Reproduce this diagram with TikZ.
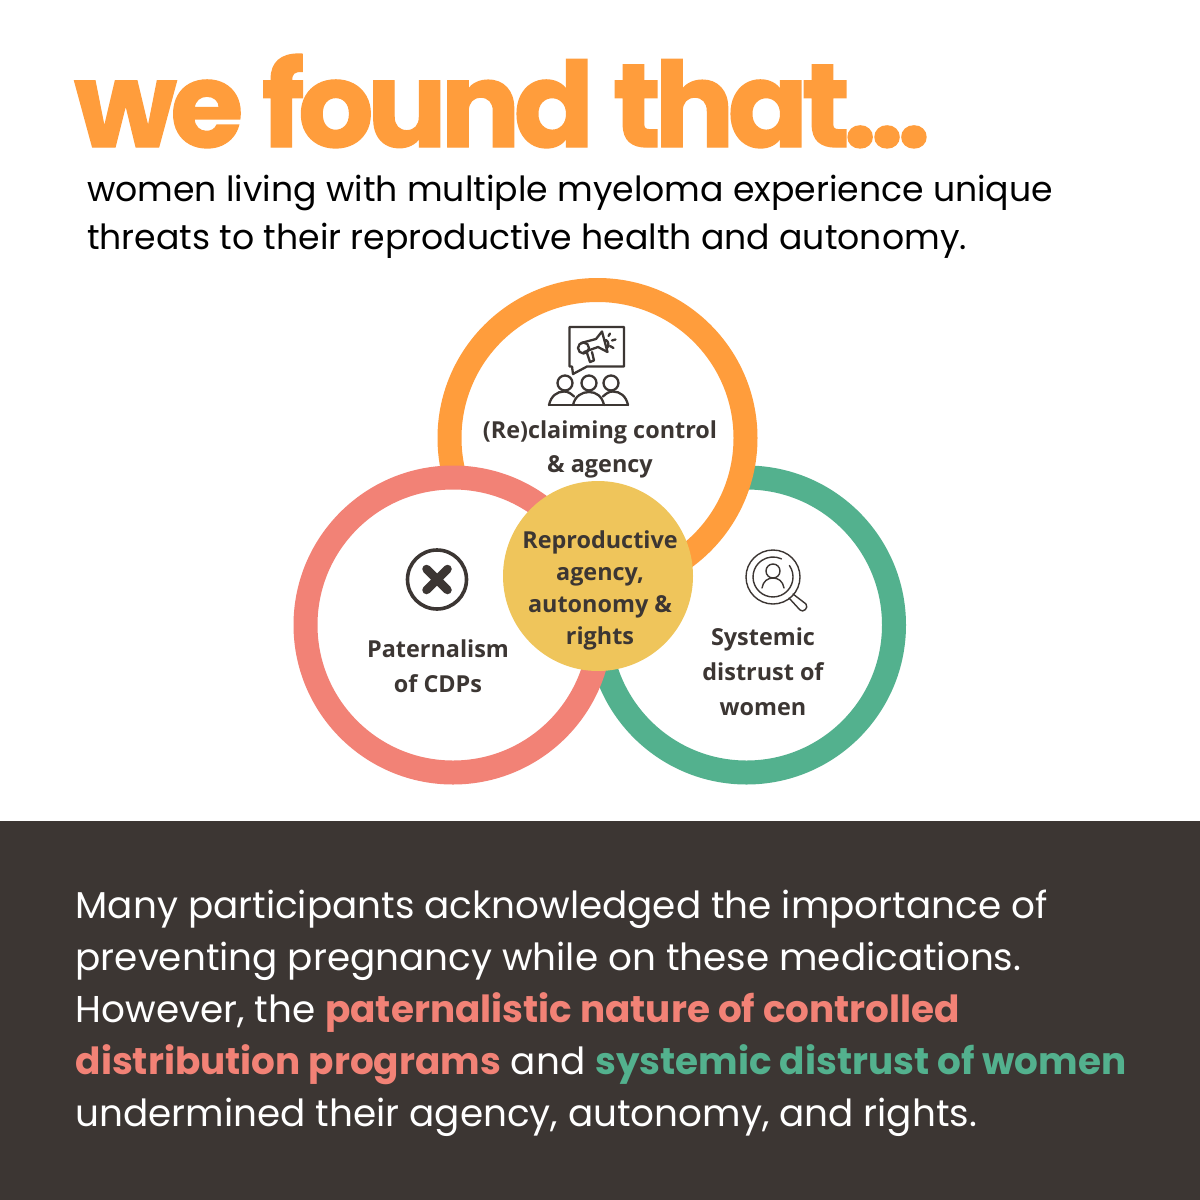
\documentclass[tikz,border=0pt]{standalone}
\usepackage{fontspec}
\setmainfont{Poppins}
\newfontfamily\titlefont[LetterSpace=-5.5,FakeBold=1.2]{Poppins Bold}
\newfontfamily\labelfont{Open Sans}
\definecolor{dark}{HTML}{3C3633}
\definecolor{orng}{HTML}{FF9D3C}
\definecolor{salm}{HTML}{F28276}
\definecolor{grn}{HTML}{53B18E}
\definecolor{gold}{HTML}{EFC55B}
\tikzset{
 x=1pt,y=-1pt,
 ring/.style={line width=24pt,fill=white},
 lab/.style={font=\labelfont\bfseries\fontsize{23.4}{35}\selectfont,text=dark,align=center},
 bodyline/.style={anchor=base west,inner sep=0pt,text=white,font=\fontsize{37.35}{40}\selectfont},
 leadline/.style={anchor=base west,inner sep=0pt,text=black,font=\fontsize{34.65}{40}\selectfont},
 ico/.style={draw=dark,line width=2.3pt,line cap=round,line join=round,fill=none},
 thin/.style={draw=dark,line width=1.4pt,line cap=round,line join=round,fill=none}
}
\begin{document}
\begin{tikzpicture}
\useasboundingbox (0,0) rectangle (1200,1200);
\fill[white] (0,0) rectangle (1200,1200);
\fill[dark] (0,821) rectangle (1200,1200);
\node[anchor=base west,inner sep=0pt,text=orng,font=\titlefont\fontsize{118.5}{124}\selectfont] (title) at (74,147) {we found that...};
\node[leadline] (l1) at (87,201) {women living with multiple myeloma experience unique};
\node[leadline] (l2) at (87,249) {threats to their reproductive health and autonomy.};
\draw[ring,draw=grn] (746.5,625) circle (147.5);
\draw[ring,draw=orng] (597.5,438) circle (148);
\draw[ring,draw=salm] (453,625) circle (147.5);
\fill[gold] (598,576) circle (95);
\node[lab] (a) at (600,449) {(Re)claiming control\\[-1pt]\& agency};
\node[lab] (b) at (600,590) {Reproductive\\[-3pt]agency,\\[-3pt]autonomy \&\\[-3pt]rights};
\node[lab] (c) at (438,666) {Paternalism\\of CDPs};
\node[lab] (d) at (763,672) {Systemic\\distrust of\\women};
% megaphone icon
\draw[ico] (569.5,327) -- (624,327) -- (624,366.5) -- (587,366.5) -- (573,374) -- (572,366.5) -- (569.5,366.5) -- cycle;
\draw[ico] (581,343) -- (596,339) -- (602,331.5) -- (607.5,352) -- (598,347) -- (584,352);
\draw[ico] (583.5,348) circle (5.5);
\draw[ico] (606,340) .. controls (609,342) and (609,346) .. (607,348);
\draw[ico] (587,353) -- (590,362) -- (594,360.5) -- (592,352);
\draw[ico] (610,333.5) -- (608.5,336) (612,340.5) -- (615.5,339.5) (610,346) -- (613.5,348);
\foreach \cx in {565,589,611}{
 \draw[ico] (\cx,383) circle (7.5);
}
\draw[ico] (549,405) .. controls (551,396) and (557,391.5) .. (564,391.5) .. controls (568,391.5) and (571,393.5) .. (574,396.5);
\draw[ico] (628,405) .. controls (626,396) and (620,391.5) .. (613,391.5) .. controls (609,391.5) and (606,393.5) .. (603,396.5);
\draw[ico] (573,405) .. controls (575,396) and (582,392) .. (589,392) .. controls (596,392) and (602,396) .. (604,405);
\draw[ico] (549,405) -- (628,405);
% x icon
\draw[dark,line width=3.6pt] (437,579.5) circle (29.5);
\draw[dark,line width=8.5pt,line cap=round] (426.5,569) -- (447.5,590) (447.5,569) -- (426.5,590);
% magnifier
\draw[thin] (773,577) circle (27);
\draw[thin] (789.4,565.5) arc (-35:295:20);
\draw[thin] (773,571) circle (7);
\draw[thin] (762,588) .. controls (763,581) and (768,578) .. (773,578) .. controls (778,578) and (783,581) .. (784,588);
\draw[thin] (789,598) -- (800,610) .. controls (803,613) and (809,608) .. (806,604) -- (793,594);
% body
\node[bodyline] (b1) at (75.5,918) {Many participants acknowledged the importance of};
\node[bodyline] (b2) at (75.5,970) {preventing pregnancy while on these medications.};
\node[bodyline] (b3) at (75.5,1022) {However, the \textcolor{salm}{\textbf{paternalistic nature of controlled}}};
\node[bodyline] (b4) at (75.5,1074) {\textcolor{salm}{\textbf{distribution programs}} and \textcolor{grn}{\textbf{systemic distrust of women}}};
\node[bodyline] (b5) at (75.5,1126) {undermined their agency, autonomy, and rights.};
\end{tikzpicture}
\end{document}
